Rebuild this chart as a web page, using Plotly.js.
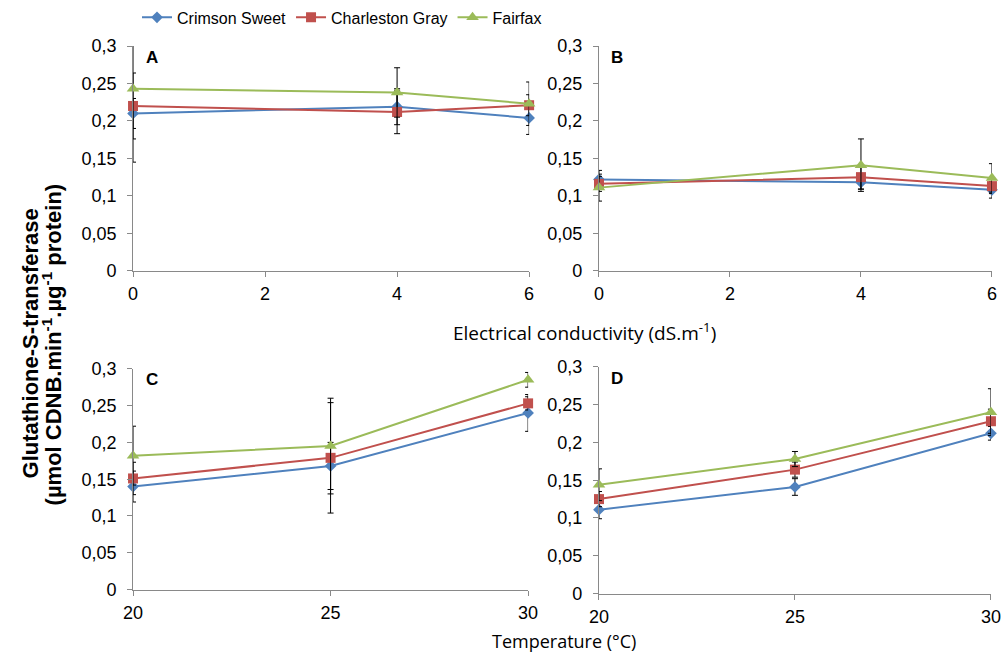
<!DOCTYPE html>
<html>
<head>
<meta charset="utf-8">
<script src="https://cdn.plot.ly/plotly-3.0.1.min.js"></script>
<style>html,body{margin:0;padding:0;background:#fff;}#chart{width:1004px;height:655px;}</style>
</head>
<body>
<div id="chart"></div>
<script>
// Categories / x values
const ecLevels = [0, 4, 6];
const tempLevels = [20, 25, 30];
const seriesNames = ["Crimson Sweet", "Charleston Gray", "Fairfax"];

// Panel A (electrical conductivity)
const aCrimson = [0.210, 0.219, 0.204];
const aCharleston = [0.220, 0.212, 0.221];
const aFairfax = [0.243, 0.238, 0.223];
const aCrimsonErr = [0.020, 0.024, 0.022];
const aCharlestonErr = [0.044, 0.029, 0.014];
const aFairfaxErr = [0.098, 0.033, 0.029];

// Panel B (electrical conductivity)
const bCrimson = [0.122, 0.118, 0.108];
const bCharleston = [0.116, 0.125, 0.113];
const bFairfax = [0.111, 0.141, 0.124];
const bCrimsonErr = [0.012, 0.009, 0.011];
const bCharlestonErr = [0.010, 0.016, 0.010];
const bFairfaxErr = [0.018, 0.035, 0.019];

// Panel C (temperature)
const cCrimson = [0.140, 0.168, 0.240];
const cCharleston = [0.151, 0.179, 0.253];
const cFairfax = [0.182, 0.195, 0.285];
const cCrimsonErr = [0.021, 0.032, 0.025];
const cCharlestonErr = [0.022, 0.075, 0.009];
const cFairfaxErr = [0.040, 0.065, 0.010];

// Panel D (temperature)
const dCrimson = [0.111, 0.141, 0.212];
const dCharleston = [0.125, 0.164, 0.228];
const dFairfax = [0.144, 0.178, 0.240];
const dCrimsonErr = [0.012, 0.011, 0.009];
const dCharlestonErr = [0.010, 0.010, 0.016];
const dFairfaxErr = [0.021, 0.010, 0.031];

const yTickVals = [0, 0.05, 0.1, 0.15, 0.2, 0.25, 0.3];
const ecTickVals = [0, 2, 4, 6];
const tempTickVals = [20, 25, 30];

const colors = ["#4F81BD", "#C0504D", "#9BBB59"];
const symbols = ["diamond", "square", "triangle-up"];
const sizes = [9, 10, 11];

const panels = [
  {x: ecLevels, ys: [aCrimson, aCharleston, aFairfax], errs: [aCrimsonErr, aCharlestonErr, aFairfaxErr], xa: "x", ya: "y"},
  {x: ecLevels, ys: [bCrimson, bCharleston, bFairfax], errs: [bCrimsonErr, bCharlestonErr, bFairfaxErr], xa: "x2", ya: "y2"},
  {x: tempLevels, ys: [cCrimson, cCharleston, cFairfax], errs: [cCrimsonErr, cCharlestonErr, cFairfaxErr], xa: "x3", ya: "y3"},
  {x: tempLevels, ys: [dCrimson, dCharleston, dFairfax], errs: [dCrimsonErr, dCharlestonErr, dFairfaxErr], xa: "x4", ya: "y4"}
];

const traces = [];
panels.forEach((p, pi) => {
  for (let s = 0; s < 3; s++) {
    traces.push({
      type: "scatter", mode: "lines+markers",
      x: p.x, y: p.ys[s], xaxis: p.xa, yaxis: p.ya,
      name: seriesNames[s], showlegend: pi === 0,
      line: {color: colors[s], width: 2},
      marker: {color: colors[s], symbol: symbols[s], size: sizes[s]},
      error_y: {type: "data", array: p.errs[s], visible: true, color: "#000", thickness: 1, width: 3},
      cliponaxis: false
    });
  }
});

const tickFont = {family: "Liberation Sans, Arial, sans-serif", size: 18, color: "#000"};
function xAx(domain, anchor, range, tv) {
  return {domain: domain, anchor: anchor, range: range, tickvals: tv, showgrid: false, zeroline: false,
    showline: true, linecolor: "#898989", linewidth: 1, ticks: "outside", ticklen: 5, tickcolor: "#898989",
    tickfont: tickFont, ticklabelstandoff: 2, fixedrange: true};
}
function yAx(domain, anchor) {
  return {domain: domain, anchor: anchor, range: [0, 0.3], tickvals: yTickVals, showgrid: false, zeroline: false,
    showline: true, linecolor: "#898989", linewidth: 1, ticks: "outside", ticklen: 5, tickcolor: "#898989",
    tickfont: tickFont, ticklabelstandoff: 7, fixedrange: true};
}

const letterFont = {family: "Liberation Sans, Arial", size: 17, color: "#000"};
const titleFont = {family: "Open Sans, Noto Sans, sans-serif", size: 18, color: "#000"};
const yTitleFont = {family: "Liberation Sans, Arial", size: 22, color: "#000"};

const layout = {
  width: 1004, height: 655,
  margin: {l: 0, r: 0, t: 0, b: 0},
  paper_bgcolor: "#fff", plot_bgcolor: "#fff",
  separators: ",.",
  showlegend: true,
  legend: {orientation: "h", x: 137/1004, y: 1.004, xanchor: "left", yanchor: "top",
    font: {family: "Liberation Sans, Arial, sans-serif", size: 16, color: "#000"}, tracegroupgap: 0},
  xaxis: xAx([0.1325, 0.527], "y", [0, 6], ecTickVals),
  yaxis: yAx([0.5893, 0.934], "x"),
  xaxis2: xAx([0.5966, 0.988], "y2", [0, 6], ecTickVals),
  yaxis2: yAx([0.5893, 0.934], "x2"),
  xaxis3: xAx([0.1325, 0.526], "y3", [20, 30], tempTickVals),
  yaxis3: yAx([0.1003, 0.439], "x3"),
  xaxis4: xAx([0.5966, 0.987], "y4", [20, 30], tempTickVals),
  yaxis4: yAx([0.0942, 0.442], "x4"),
  annotations: [
    {text: "<b>A</b>", xref: "paper", yref: "paper", x: 152/1004, y: 1 - 55/655, showarrow: false, xanchor: "center", yanchor: "middle", font: letterFont},
    {text: "<b>B</b>", xref: "paper", yref: "paper", x: 617/1004, y: 1 - 55/655, showarrow: false, xanchor: "center", yanchor: "middle", font: letterFont},
    {text: "<b>C</b>", xref: "paper", yref: "paper", x: 152/1004, y: 1 - 378/655, showarrow: false, xanchor: "center", yanchor: "middle", font: letterFont},
    {text: "<b>D</b>", xref: "paper", yref: "paper", x: 617/1004, y: 1 - 377/655, showarrow: false, xanchor: "center", yanchor: "middle", font: letterFont},
    {text: "Electrical conductivity (dS.m<sup>-1</sup>)", xref: "paper", yref: "paper", x: 584/1004, y: 1 - 331/655, showarrow: false, xanchor: "center", yanchor: "middle", font: {family: "Open Sans, Noto Sans, sans-serif", size: 19, color: "#000"}},
    {text: "Temperature (°C)", xref: "paper", yref: "paper", x: 564/1004, y: 1 - 641/655, showarrow: false, xanchor: "center", yanchor: "middle", font: titleFont},
    {text: "<b>Glutathione-S-transferase</b>", xref: "paper", yref: "paper", x: 30/1004, y: 1 - 342/655, showarrow: false, textangle: -90, xanchor: "center", yanchor: "middle", font: yTitleFont},
    {text: "<b>(µmol CDNB.min<sup>-1</sup>.µg<sup>-1</sup> protein)</b>", xref: "paper", yref: "paper", x: 52/1004, y: 1 - 343/655, showarrow: false, textangle: -90, xanchor: "center", yanchor: "middle", font: yTitleFont}
  ]
};

Plotly.newPlot("chart", traces, layout, {staticPlot: true, displayModeBar: false});
</script>
</body>
</html>
